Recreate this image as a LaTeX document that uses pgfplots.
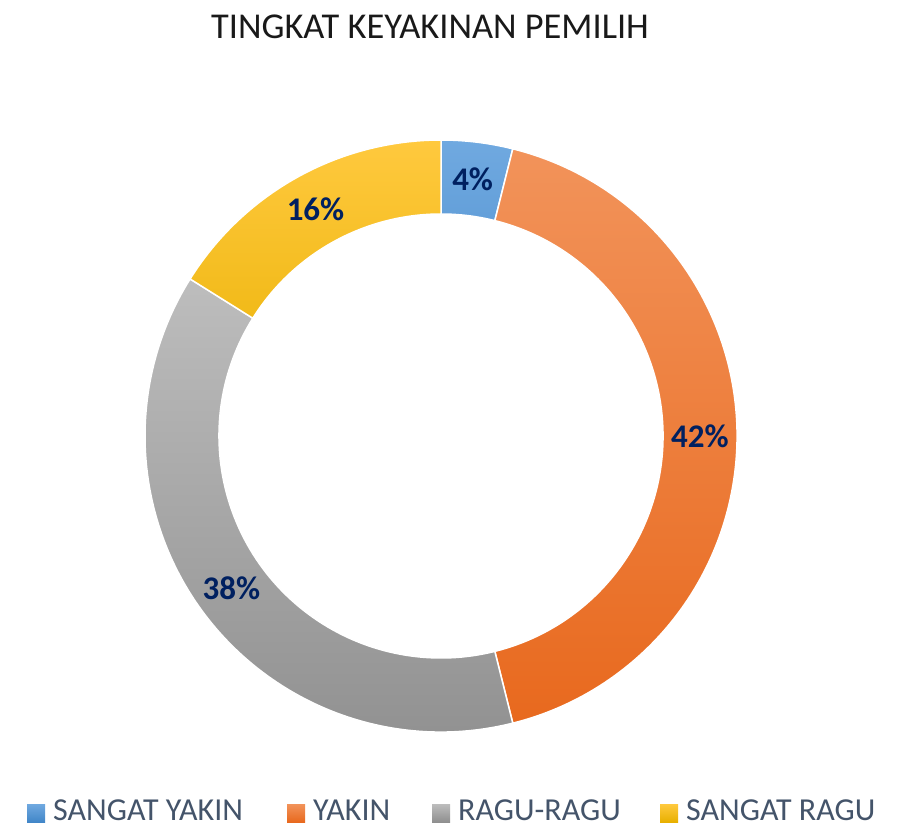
\documentclass[border=0pt]{standalone}
\usepackage{pgfplots}
\pgfplotsset{compat=1.18}
\usepackage{pgfplotstable}
\usetikzlibrary{calc}
\usepackage{fontspec}
\setmainfont{Carlito}
\definecolor{top0}{HTML}{70A9E0}\definecolor{bot0}{HTML}{4186C8}
\definecolor{top1}{HTML}{F2935A}\definecolor{bot1}{HTML}{E8691E}
\definecolor{top2}{HTML}{BDBDBD}\definecolor{bot2}{HTML}{8F8F8F}
\definecolor{top3}{HTML}{FFC93E}\definecolor{bot3}{HTML}{E8B000}
\definecolor{navy}{HTML}{002060}
\definecolor{legtext}{HTML}{44546A}
\newcommand\labfont{\fontsize{33}{36}\selectfont\bfseries}
\newcommand\legfont{\fontsize{32}{35}\selectfont}
\pgfplotstableread[col sep=comma]{
name,value,pct,legx
SANGAT YAKIN,3.9,4,27
YAKIN,42.2,42,287
RAGU-RAGU,37.8,38,432
SANGAT RAGU,16.1,16,660
}\donut
\begin{document}
\begin{tikzpicture}
\begin{axis}[scale only axis, width=897pt, height=836pt,
  xmin=0, xmax=897, ymin=0, ymax=836, hide axis, clip=false]
\addplot[draw=none] coordinates {(0,0) (897,836)};
\global\def\astart{90}
\pgfplotsinvokeforeach{0,...,3}{
  \pgfplotstablegetelem{#1}{value}\of\donut \let\vv=\pgfplotsretval
  \pgfplotstablegetelem{#1}{pct}\of\donut \let\pv=\pgfplotsretval
  \pgfplotstablegetelem{#1}{name}\of\donut \let\nv=\pgfplotsretval
  \pgfplotstablegetelem{#1}{legx}\of\donut \let\lx=\pgfplotsretval
  \pgfmathsetmacro\aend{\astart-3.6*\vv}
  \pgfmathsetmacro\amid{(\astart+\aend)/2}
  \pgfmathsetmacro\ltx{\lx+26}
  \edef\cmd{%
    \noexpand\shadedraw[top color=top#1, bottom color=bot#1, draw=white, line width=1.5pt]
      (axis cs:441,400) ++(\astart:296pt) arc[start angle=\astart, end angle=\aend, radius=296pt]
      -- ($(axis cs:441,400)+(\aend:222pt)$) arc[start angle=\aend, end angle=\astart, radius=222pt] -- cycle;
    \noexpand\node[font=\noexpand\labfont, text=navy, inner sep=0pt] at ($(axis cs:441,400)+(\amid:259pt)$) {\pv\noexpand\%};
    \noexpand\shade[top color=top#1, bottom color=bot#1] (axis cs:\lx,14) rectangle (axis cs:\lx+18,32);
    \noexpand\node[font=\noexpand\legfont, text=legtext, anchor=west, inner sep=0pt] at (axis cs:\ltx,25.3) {\nv};
  }%
  \cmd
  \global\let\astart=\aend
}
\node[font=\fontsize{36.4}{40}\selectfont, text=black!90, inner sep=0pt] at (axis cs:430,809) {TINGKAT KEYAKINAN PEMILIH};
\end{axis}
\end{tikzpicture}
\end{document}
